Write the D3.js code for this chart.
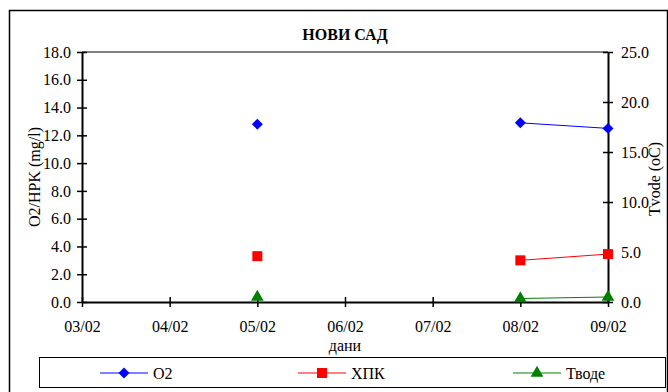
<!DOCTYPE html>
<html>
<head>
<meta charset="utf-8">
<script src="https://cdn.jsdelivr.net/npm/d3@7"></script>
</head>
<body style="margin:0; background:#fff">
<div id="chart"></div>
<script>
// data
const days = ["03/02", "04/02", "05/02", "06/02", "07/02", "08/02", "09/02"];
const o2 = [null, null, 12.8, null, null, 12.9, 12.5];
const hpk = [null, null, 3.3, null, null, 3.0, 3.45];
const tvode = [null, null, 0.5, null, null, 0.35, 0.5];
const leftTicks = [0, 2, 4, 6, 8, 10, 12, 14, 16, 18];
const rightTicks = [0, 5, 10, 15, 20, 25];

const FONT = "'Liberation Serif', 'Times New Roman', serif";
const W = 668, H = 392;
const margin = { top: 52, right: 60, bottom: 90, left: 82 };
const width = W - margin.left - margin.right,
      height = H - margin.top - margin.bottom;

const svg = d3.select("#chart").append("svg")
  .attr("width", W).attr("height", H);

function txt(sel) {
  return sel.style("font-family", FONT).style("fill", "#000");
}

// outer frame
svg.append("rect")
  .attr("x", 9.5).attr("y", 10.5)
  .attr("width", 658).attr("height", 400)
  .attr("fill", "none").attr("stroke", "#000").attr("stroke-width", 1.5);

svg.append("text")
  .attr("x", 345).attr("y", 40)
  .attr("text-anchor", "middle")
  .style("font-size", "16px").style("font-weight", "bold")
  .call(txt)
  .text("НОВИ САД");

const g = svg.append("g")
  .attr("transform", `translate(${margin.left},${margin.top})`);

// scales
const x = d3.scalePoint().domain(days).range([0, width]);
const yL = d3.scaleLinear().domain([0, 18]).range([height, 0]);
const yR = d3.scaleLinear().domain([0, 25]).range([height, 0]);

// top border of plot
g.append("line")
  .attr("x1", 0).attr("x2", width).attr("y1", 0).attr("y2", 0)
  .attr("stroke", "#808080").attr("stroke-width", 2);

function styleAxis(sel) {
  sel.select(".domain").attr("stroke", "#000").attr("stroke-width", 2);
  sel.selectAll(".tick line").attr("stroke", "#000").attr("stroke-width", 1.5);
  sel.selectAll(".tick text").style("font-size", "16px").call(txt);
}

// left axis
g.append("g")
  .call(d3.axisLeft(yL).tickValues(leftTicks).tickFormat(d3.format(".1f"))
    .tickSizeInner(5).tickSizeOuter(0).tickPadding(6))
  .call(styleAxis)
  .call(a => a.selectAll(".tick line").attr("x2", 5).attr("x1", -5));

// right axis
g.append("g")
  .attr("transform", `translate(${width},0)`)
  .call(d3.axisRight(yR).tickValues(rightTicks).tickFormat(d3.format(".1f"))
    .tickSizeInner(5).tickSizeOuter(0).tickPadding(8))
  .call(styleAxis)
  .call(a => a.selectAll(".tick line").attr("x1", -5).attr("x2", 5));

// bottom axis
g.append("g")
  .attr("transform", `translate(0,${height})`)
  .call(d3.axisBottom(x).tickSizeInner(5).tickSizeOuter(0).tickPadding(14))
  .call(styleAxis)
  .call(a => a.selectAll(".tick line").attr("y1", -5).attr("y2", 5));

// axis titles
svg.append("text")
  .attr("transform", `translate(40,${margin.top + height / 2}) rotate(-90)`)
  .attr("text-anchor", "middle").style("font-size", "16px")
  .call(txt)
  .text("O2/HPK (mg/l)");

svg.append("text")
  .attr("transform", `translate(660,${margin.top + height / 2 + 2}) rotate(-90)`)
  .attr("text-anchor", "middle").style("font-size", "16px")
  .call(txt)
  .text("Tvode (oC)");

svg.append("text")
  .attr("x", 345).attr("y", 351)
  .attr("text-anchor", "middle").style("font-size", "16px")
  .call(txt)
  .text("дани");

// series (diamond = square turned 45 degrees)
const series = [
  { name: "O2", values: o2, y: yL, color: "#0000ff", shape: d3.symbolSquare, size: 60, rot: 45 },
  { name: "ХПК", values: hpk, y: yL, color: "#ff0000", shape: d3.symbolSquare, size: 100, rot: 0 },
  { name: "Тводе", values: tvode, y: yR, color: "#008000", shape: d3.symbolTriangle, size: 70, rot: 0 }
];

series.forEach(s => {
  const pts = days.map((d, i) => ({ day: d, v: s.values[i] }));
  const line = d3.line()
    .defined(d => d.v != null)
    .x(d => x(d.day)).y(d => s.y(d.v));
  g.append("path")
    .datum(pts)
    .attr("fill", "none").attr("stroke", s.color).attr("stroke-width", 1)
    .attr("d", line);
  g.selectAll(null)
    .data(pts.filter(d => d.v != null))
    .join("path")
    .attr("transform", d => `translate(${x(d.day)},${s.y(d.v)}) rotate(${s.rot})`)
    .attr("d", d3.symbol().type(s.shape).size(s.size))
    .attr("fill", s.color);
});

// legend
const leg = svg.append("g");
leg.append("rect")
  .attr("x", 39.5).attr("y", 357.5).attr("width", 626).attr("height", 30)
  .attr("fill", "#fff").attr("stroke", "#000").attr("stroke-width", 1);

const legX = [100, 298, 513];
series.forEach((s, i) => {
  const lx = legX[i], ly = 373;
  leg.append("line")
    .attr("x1", lx).attr("x2", lx + 48).attr("y1", ly).attr("y2", ly)
    .attr("stroke", s.color).attr("stroke-width", 1);
  leg.append("path")
    .attr("transform", `translate(${lx + 24},${ly}) rotate(${s.rot})`)
    .attr("d", d3.symbol().type(s.shape).size(s.size))
    .attr("fill", s.color);
  leg.append("text")
    .attr("x", lx + 53).attr("y", ly + 6)
    .style("font-size", "16px")
    .call(txt)
    .text(s.name);
});
</script>
</body>
</html>
